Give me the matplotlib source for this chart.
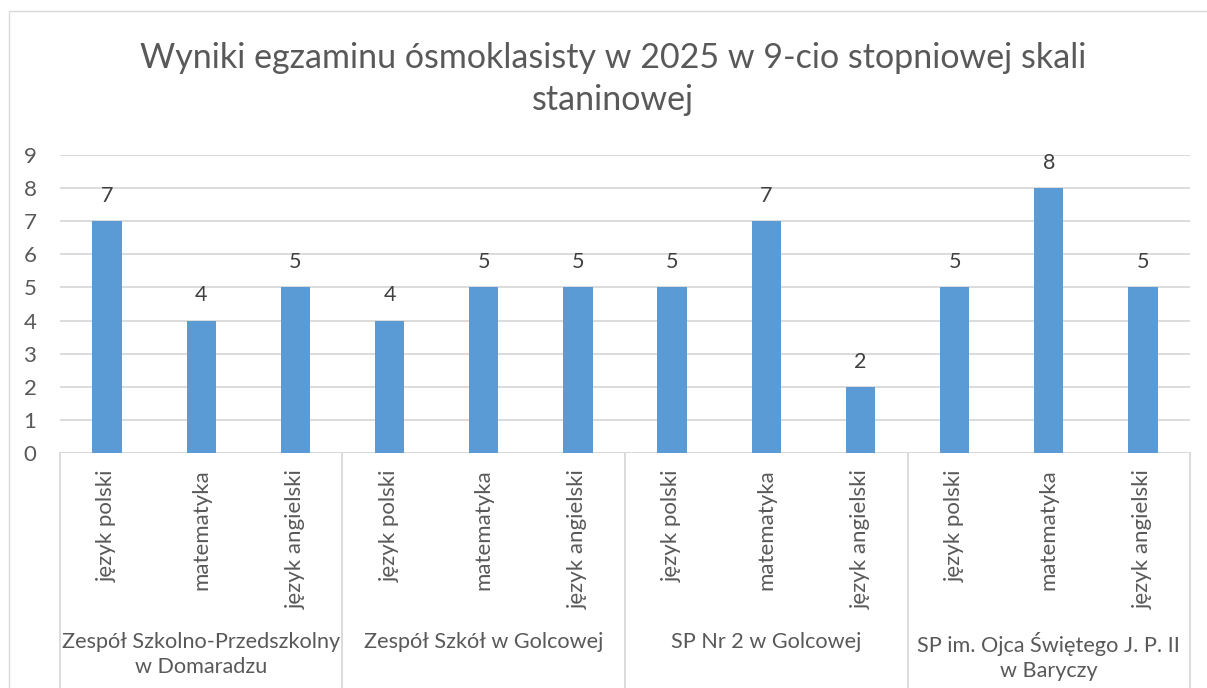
import numpy as np
import matplotlib.pyplot as plt
from matplotlib.patches import Rectangle
from matplotlib.lines import Line2D

# dane z wykresu
schools = ['Zespół Szkolno-Przedszkolny\nw Domaradzu',
           'Zespół Szkół w Golcowej',
           'SP Nr 2 w Golcowej',
           'SP im. Ojca Świętego J. P. II\nw Baryczy']
subjects = ['język polski', 'matematyka', 'język angielski']
scores = [7, 4, 5,
          4, 5, 5,
          5, 7, 2,
          5, 8, 5]

title = 'Wyniki egzaminu ósmoklasisty w 2025 w 9-cio stopniowej skali\nstaninowej'

text_col = '#595959'
grid_col = '#D9D9D9'
bar_col = '#5B9BD5'

plt.rcParams['font.family'] = ['Lato', 'DejaVu Sans']

W, H = 1207, 688
fig = plt.figure(figsize=(W / 100, H / 100), dpi=100)

# ramka wykresu
fig.patches.append(Rectangle((9 / W, -0.1), 1.2, (H - 11) / H + 0.1, transform=fig.transFigure,
                             fill=False, edgecolor=grid_col, lw=1.0))

x0, x1 = 60, 1190
y0, y9 = 453, 155
ax = fig.add_axes([x0 / W, (H - y0) / H, (x1 - x0) / W, (y0 - y9) / H])

n = len(scores)
x = np.arange(n)
ax.bar(x, scores, width=0.31, color=bar_col, zorder=3)
for xi, v in zip(x, scores):
    ax.annotate(str(v), (xi, v), xytext=(0, 11), textcoords='offset points',
                ha='center', va='bottom', fontsize=15.5, color='#404040')

ax.set_xlim(-0.5, n - 0.5)
ax.set_ylim(0, 9)
ax.set_yticks(range(10))
ax.yaxis.grid(True, color=grid_col, lw=1.3, zorder=0)
for s in ax.spines.values():
    s.set_visible(False)
ax.tick_params(axis='y', length=0, labelsize=16, labelcolor=text_col, pad=17)
ax.set_xticks([])
ax.axhline(0, color=grid_col, lw=1.3, zorder=2)

# etykiety kategorii (przedmioty)
for i in range(n):
    ax.text(i, 0, subjects[i % 3], transform=ax.get_xaxis_transform(), rotation=90,
            ha='center', va='top', fontsize=16, color=text_col,
            position=(i, -16 / (y0 - y9)))

# separatory grup i nazwy szkół
tr = ax.get_xaxis_transform()
ybot = -(H - y0) / (y0 - y9) - 0.05
for g in range(len(schools) + 1):
    xs = g * 3 - 0.5
    ax.add_line(Line2D([xs, xs], [0, ybot], transform=tr, color=grid_col, lw=1.3, clip_on=False))
for g, name in enumerate(schools):
    ax.text(g * 3 + 1, -(632 - y0) / (y0 - y9), name, transform=tr, ha='center', va='top',
            fontsize=15.6, color=text_col, linespacing=1.3)

fig.text(0.508, 1 - 42 / H, title, ha='center', va='top', fontsize=24.5, color=text_col,
         linespacing=1.4)

fig.savefig('out.png', dpi=100)
